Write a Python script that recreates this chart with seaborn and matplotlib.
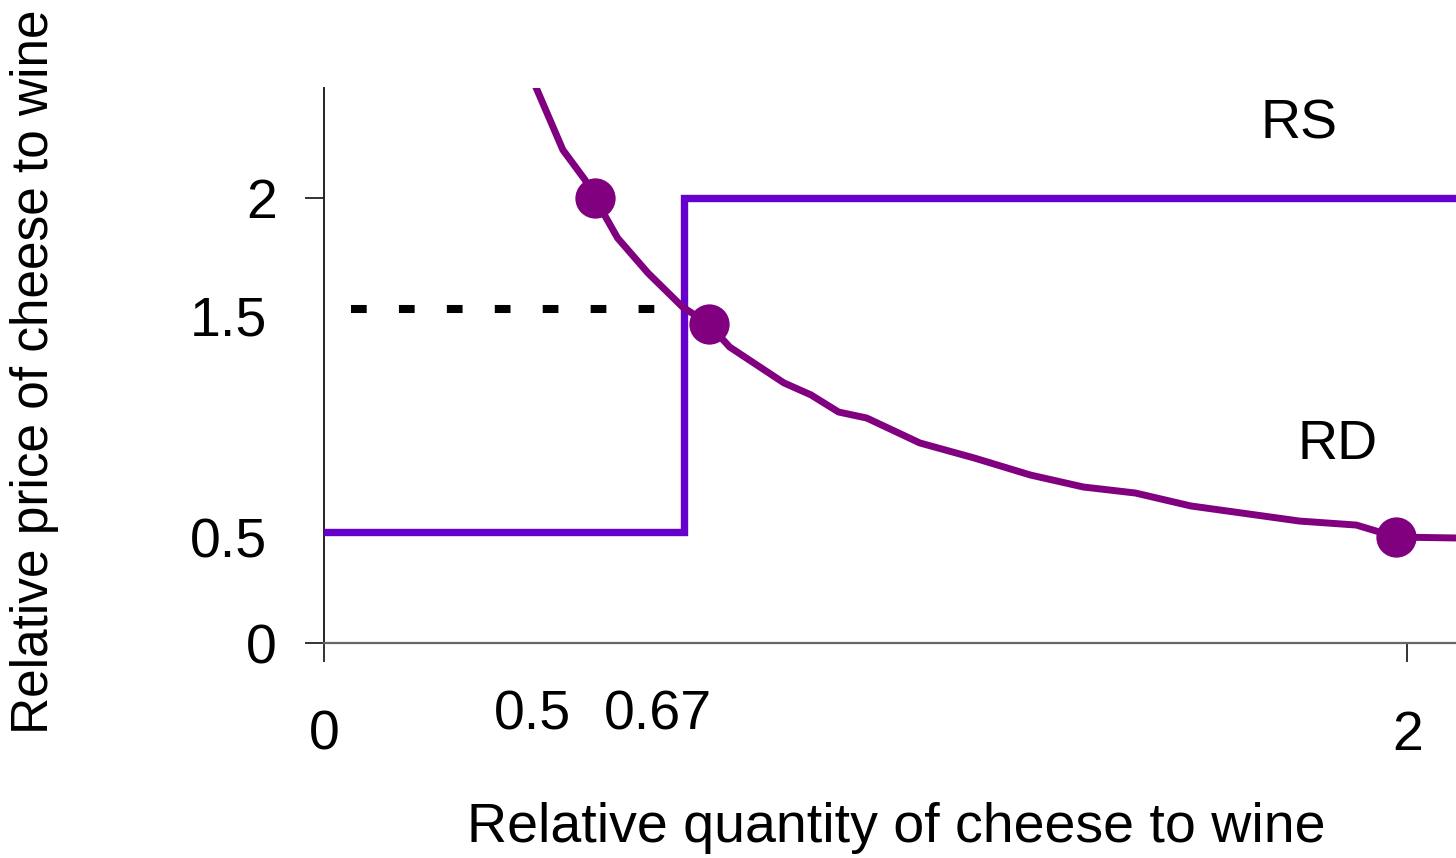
import matplotlib
matplotlib.use("Agg")
import matplotlib.pyplot as plt
import seaborn as sns
import pandas as pd

# ---- data ----
rs_x = [0.0, 0.665, 0.665, 2.09]
rs_y = [0.5, 0.5, 2.0, 2.0]

rd_x = [0.376, 0.441, 0.482, 0.50, 0.542, 0.598, 0.662, 0.710, 0.749, 0.849,
        0.899, 0.950, 1.002, 1.100, 1.201, 1.304, 1.402, 1.498, 1.600, 1.801,
        1.906, 1.980, 2.09]
rd_y = [2.584, 2.216, 2.081, 2.00, 1.820, 1.663, 1.510, 1.434, 1.330, 1.169,
        1.115, 1.038, 1.011, 0.899, 0.831, 0.755, 0.701, 0.674, 0.616, 0.548,
        0.530, 0.476, 0.472]

dot_x = [0.50, 0.710, 1.980]
dot_y = [2.00, 1.434, 0.476]

price_line_x = [0.05, 0.665]
price_line_y = [1.5, 1.5]

yticks_main = [0, 2]
yticks_main_labels = ["0", "2"]
yticks_extra = [0.5, 1.5]
yticks_extra_labels = ["0.5", "1.5"]
xticks_main = [0, 2]
xticks_main_labels = ["0", "2"]
xticks_extra = [0.5, 0.67]
xticks_extra_labels = ["0.5", "0.67"]

curve_labels = ["RS", "RD"]

# ---- style ----
sns.set_theme(style="white")
plt.rcParams["font.family"] = ["Liberation Sans", "DejaVu Sans"]
plt.rcParams["text.color"] = "black"

RS_COLOR = "#6600CC"
RD_COLOR = "#800080"
FS = 40

fig = plt.figure(figsize=(14.56, 8.58), dpi=100)
ax = fig.add_axes([324 / 1456, 1 - 643 / 858, 1 - 324 / 1456, (643 - 88) / 858])

rs_df = pd.DataFrame({"x": rs_x, "y": rs_y})
rd_df = pd.DataFrame({"x": rd_x, "y": rd_y})
dot_df = pd.DataFrame({"x": dot_x, "y": dot_y})

sns.lineplot(data=rs_df, x="x", y="y", ax=ax, color=RS_COLOR, linewidth=5.3,
             estimator=None, sort=False, solid_joinstyle="miter", zorder=3)
sns.lineplot(data=rd_df, x="x", y="y", ax=ax, color=RD_COLOR, linewidth=5.0,
             estimator=None, sort=False, zorder=4)
ax.plot(price_line_x, price_line_y, color="black", linewidth=5.8,
        dashes=(1.95, 4.0), dash_capstyle="butt", zorder=2)
sns.scatterplot(data=dot_df, x="x", y="y", ax=ax, color=RD_COLOR, s=29 ** 2,
                linewidth=0, zorder=5)

ax.set_xlim(0, 2.09)
ax.set_ylim(0, 2.494)

# spines
for s in ["top", "right"]:
    ax.spines[s].set_visible(False)
ax.spines["left"].set_color("#222222")
ax.spines["left"].set_linewidth(1.4)
ax.spines["bottom"].set_color("#666666")
ax.spines["bottom"].set_linewidth(1.6)

ax.set_yticks(yticks_main)
ax.set_yticklabels(yticks_main_labels)
ax.set_xticks(xticks_main)
ax.set_xticklabels(xticks_main_labels)
ax.tick_params(axis="y", which="major", left=True, length=14, width=1.4,
               color="#333333", pad=20, labelsize=FS, labelcolor="black")
ax.tick_params(axis="x", which="major", bottom=True, length=14, width=1.4,
               color="#333333", pad=34, labelsize=FS, labelcolor="black")

for v, lab in zip(yticks_extra, yticks_extra_labels):
    ax.annotate(lab, xy=(0, v), xycoords="data", xytext=(-41, -8.5),
                textcoords="offset points", ha="right", va="center",
                fontsize=FS, color="black")

x_offsets = [-45, -21]
for v, lab, dx in zip(xticks_extra, xticks_extra_labels, x_offsets):
    ax.annotate(lab, xy=(v, 0), xycoords="data", xytext=(dx, -52),
                textcoords="offset points", ha="center", va="center",
                fontsize=FS, color="black")

ax.text(1.801, 2.33, curve_labels[0], ha="center", va="center", fontsize=FS,
        color="black")
ax.text(1.871, 0.89, curve_labels[1], ha="center", va="center", fontsize=FS,
        color="black")

fig.text(896 / 1456, 1 - 828 / 858, "Relative quantity of cheese to wine",
         ha="center", va="center", fontsize=FS, color="black")
fig.text(35 / 1456, 1 - 372 / 858, "Relative price of cheese to wine",
         ha="center", va="center", rotation=90, fontsize=37, color="black")

ax.set_xlabel("")
ax.set_ylabel("")

fig.savefig("out.png", dpi=100)
